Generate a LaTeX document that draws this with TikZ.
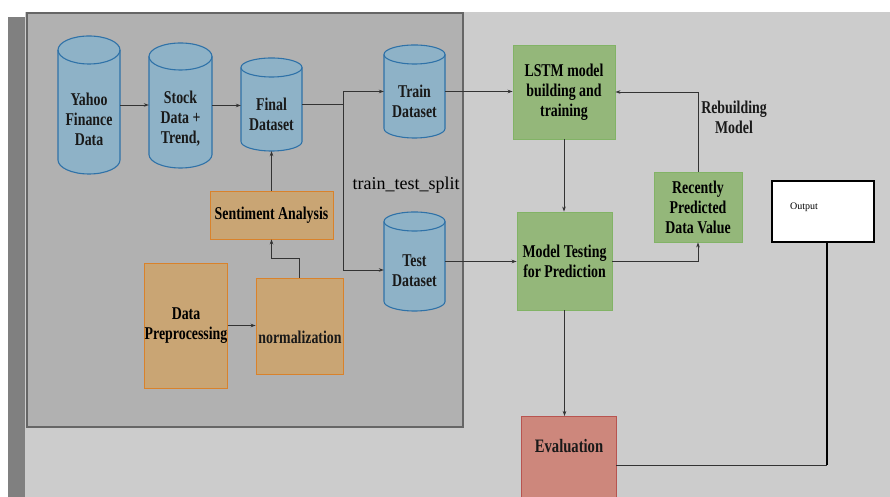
\documentclass[tikz,border=0pt]{standalone}
\usepackage{fontspec}
\setmainfont{Liberation Serif}[FakeStretch=0.77]
\newfontfamily\plainserif{Liberation Serif}
\usetikzlibrary{arrows.meta,calc}
\definecolor{bglight}{HTML}{CCCCCC}
\definecolor{bgdark}{HTML}{B1B1B1}
\definecolor{stripc}{HTML}{808080}
\definecolor{cylfill}{HTML}{8EB2C7}
\definecolor{cylline}{HTML}{2F72A8}
\definecolor{orfill}{HTML}{C9A574}
\definecolor{orline}{HTML}{D9822B}
\definecolor{grfill}{HTML}{94B77A}
\definecolor{grline}{HTML}{82B366}
\definecolor{rdfill}{HTML}{CD877C}
\definecolor{rdline}{HTML}{B85450}
\definecolor{conn}{HTML}{333333}
\tikzset{
  bodyfont/.style={font=\bfseries\fontsize{18}{20}\selectfont},
  lbl/.style={bodyfont, align=center, inner sep=0pt, text=black!90},
  cylnode/.style={inner sep=0pt, draw=none},
  cylshape/.style={fill=cylfill, draw=cylline, line width=1.1pt},
  orbox/.style={fill=orfill, draw=orline, line width=0.9pt, inner sep=0pt, align=center, bodyfont},
  grbox/.style={fill=grfill, draw=grline, line width=0.9pt, inner sep=0pt, align=center, bodyfont},
  rdbox/.style={fill=rdfill, draw=rdline, line width=0.9pt, inner sep=0pt},
  arr/.style={draw=conn, line width=0.8pt, -{Stealth[length=5pt,width=3.6pt]}},
  plain/.style={draw=conn, line width=0.8pt},
}
% #1 name, #2 cx, #3 cy, #4 half width, #5 half height, #6 ry, #7 text
\newcommand\mycyl[7]{%
  \filldraw[cylshape] ({#2-#4},{#3+#5-#6}) -- ({#2-#4},{#3-#5+#6})
     arc[start angle=180, end angle=360, x radius=#4, y radius=#6]
     -- ({#2+#4},{#3+#5-#6})
     arc[start angle=0, end angle=180, x radius=#4, y radius=#6] -- cycle;
  \draw[cylshape, fill=none] ({#2-#4},{#3+#5-#6})
     arc[start angle=180, end angle=360, x radius=#4, y radius=#6];
  \node[cylnode, minimum width={2*#4}, minimum height={2*#5}] (#1) at (#2,#3) {};
  \node[lbl] (#1-t) at (#2,{#3-#6}) {#7};
}
\begin{document}
\begin{tikzpicture}[x=1pt,y=1pt]
\useasboundingbox (0,0) rectangle (890,497);
\fill[white] (0,0) rectangle (890,497);
% backgrounds
\fill[bglight] (25,0) rectangle (890,485);
\fill[stripc] (8,0) rectangle (25,480);
\filldraw[fill=bgdark, draw=black!60, line width=1.2pt] (27,70) rectangle (463,484);

% cylinders
\mycyl{yahoo}{89}{392}{31}{69}{14}{Yahoo\\Finance\\Data}
\mycyl{stock}{180.5}{391.5}{31.5}{62.5}{13.5}{Stock\\Data +\\Trend,}
\mycyl{final}{271.5}{392.5}{30.5}{46.5}{9.5}{Final\\Dataset}
\mycyl{train}{414.5}{405.5}{30.5}{46.5}{9.5}{Train\\Dataset}
\mycyl{test}{414.5}{235.5}{30.5}{49.5}{9.5}{Test\\Dataset}

% orange boxes
\node[orbox, minimum width=123, minimum height=48] (senti) at (271.5,282) {Sentiment Analysis};
\node[orbox, minimum width=82, minimum height=125] (prep) at (186,171.5) {Data\\Preprocessing};
\node[orbox, minimum width=87, minimum height=96] (norm) at (299.5,171) {};
\node[lbl] (norm-t) at (300,160) {normalization};

% green boxes
\node[grbox, minimum width=102, minimum height=94] (lstm) at (564,405) {LSTM model\\building and\\training};
\node[grbox, minimum width=95, minimum height=98] (mt) at (564.5,236) {Model Testing\\for Prediction};
\node[grbox, minimum width=88, minimum height=70] (recent) at (698,290) {Recently\\Predicted\\Data Value};

% evaluation
\node[rdbox, minimum width=95, minimum height=100, anchor=north] (eval) at (568.5,81) {};
\node[lbl, font=\bfseries\fontsize{19}{21}\selectfont] (eval-t) at (569,51) {Evaluation};

% output
\node[fill=white, draw=black, line width=2pt, minimum width=102, minimum height=61, inner sep=0pt] (output) at (823,285.5) {};
\node[font=\plainserif\fontsize{10}{12}\selectfont, inner sep=0pt] (output-t) at (804,290) {Output};

% labels
\node[font=\plainserif\fontsize{18}{21}\selectfont, inner sep=0pt] (tts) at (406,312) {train\_test\_split};
\node[lbl] (rebuild) at (734,380) {Rebuilding\\Model};

% connectors
\draw[arr] (yahoo.east) -- (yahoo.east -| stock.west);
\draw[arr] (stock.east) -- (stock.east -| final.west);
\draw[arr] (final.east) -- ++(41,0) |- (train.west);
\draw[arr] (final.east) -- ++(41,0) |- ([yshift=-8.5]test.west);
\draw[arr] (senti.north) -- (final.south);
\draw[arr] (norm.north) -- ++(0,19) -| (senti.south);
\draw[arr] (prep.east) -- (prep.east -| norm.west);
\draw[arr] (train.east) -- (train.east -| lstm.west);
\draw[arr] (test.east) -- (test.east -| mt.west);
\draw[arr] (lstm.south) -- (lstm.south |- mt.north);
\draw[arr] (mt.east) -| (recent.south);
\draw[arr] (recent.north) |- (lstm.east);
\draw[arr] (mt.south) -- (mt.south |- eval.north);
\coordinate (corner) at ([xshift=4]output.south |- 0,32);
\draw[plain] ([yshift=-49]eval.north east) -- (corner);
\draw[draw=black, line width=2pt] (corner) -- ([xshift=4]output.south);
\end{tikzpicture}
\end{document}
